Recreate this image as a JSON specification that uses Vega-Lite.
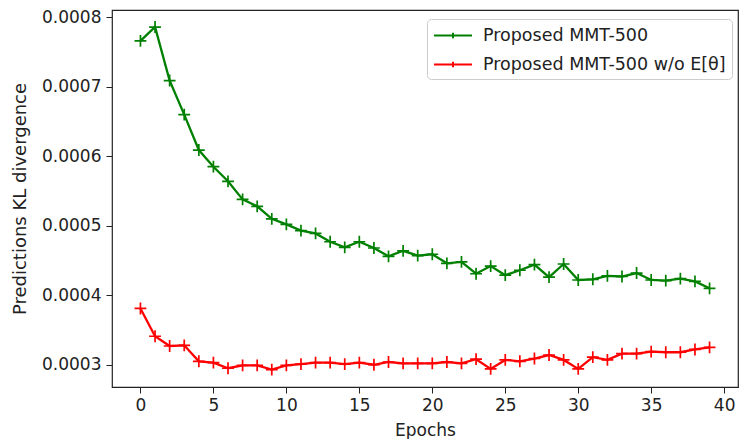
{
  "$schema": "https://vega.github.io/schema/vega-lite/v6.json",
  "autosize": {"type": "none"},
  "width": 626,
  "height": 377,
  "padding": {"left": 112, "top": 10, "right": 2, "bottom": 52},
  "background": "white",
  "config": {
    "view": {"stroke": "#222", "strokeWidth": 1.2},
    "font": "DejaVu Sans",
    "axis": {"grid": false, "domain": false, "tickColor": "#222", "tickSize": 6, "labelFont": "DejaVu Sans", "labelFontSize": 17, "labelColor": "#222", "titleFont": "DejaVu Sans", "titleFontSize": 17, "titleFontWeight": "normal", "titleColor": "#222", "labelPadding": 4}
  },
  "data": {"values": [
    {"epoch":0,"series":"Proposed MMT-500","kl":0.000766},
    {"epoch":1,"series":"Proposed MMT-500","kl":0.000786},
    {"epoch":2,"series":"Proposed MMT-500","kl":0.000709},
    {"epoch":3,"series":"Proposed MMT-500","kl":0.000660},
    {"epoch":4,"series":"Proposed MMT-500","kl":0.000609},
    {"epoch":5,"series":"Proposed MMT-500","kl":0.000585},
    {"epoch":6,"series":"Proposed MMT-500","kl":0.000564},
    {"epoch":7,"series":"Proposed MMT-500","kl":0.000538},
    {"epoch":8,"series":"Proposed MMT-500","kl":0.000528},
    {"epoch":9,"series":"Proposed MMT-500","kl":0.000510},
    {"epoch":10,"series":"Proposed MMT-500","kl":0.000502},
    {"epoch":11,"series":"Proposed MMT-500","kl":0.000493},
    {"epoch":12,"series":"Proposed MMT-500","kl":0.000489},
    {"epoch":13,"series":"Proposed MMT-500","kl":0.000477},
    {"epoch":14,"series":"Proposed MMT-500","kl":0.000469},
    {"epoch":15,"series":"Proposed MMT-500","kl":0.000477},
    {"epoch":16,"series":"Proposed MMT-500","kl":0.000468},
    {"epoch":17,"series":"Proposed MMT-500","kl":0.000456},
    {"epoch":18,"series":"Proposed MMT-500","kl":0.000464},
    {"epoch":19,"series":"Proposed MMT-500","kl":0.000457},
    {"epoch":20,"series":"Proposed MMT-500","kl":0.000459},
    {"epoch":21,"series":"Proposed MMT-500","kl":0.000446},
    {"epoch":22,"series":"Proposed MMT-500","kl":0.000448},
    {"epoch":23,"series":"Proposed MMT-500","kl":0.000431},
    {"epoch":24,"series":"Proposed MMT-500","kl":0.000442},
    {"epoch":25,"series":"Proposed MMT-500","kl":0.000429},
    {"epoch":26,"series":"Proposed MMT-500","kl":0.000436},
    {"epoch":27,"series":"Proposed MMT-500","kl":0.000444},
    {"epoch":28,"series":"Proposed MMT-500","kl":0.000426},
    {"epoch":29,"series":"Proposed MMT-500","kl":0.000445},
    {"epoch":30,"series":"Proposed MMT-500","kl":0.000422},
    {"epoch":31,"series":"Proposed MMT-500","kl":0.000423},
    {"epoch":32,"series":"Proposed MMT-500","kl":0.000428},
    {"epoch":33,"series":"Proposed MMT-500","kl":0.000427},
    {"epoch":34,"series":"Proposed MMT-500","kl":0.000432},
    {"epoch":35,"series":"Proposed MMT-500","kl":0.000422},
    {"epoch":36,"series":"Proposed MMT-500","kl":0.000421},
    {"epoch":37,"series":"Proposed MMT-500","kl":0.000424},
    {"epoch":38,"series":"Proposed MMT-500","kl":0.000420},
    {"epoch":39,"series":"Proposed MMT-500","kl":0.000410},
    {"epoch":0,"series":"Proposed MMT-500 w/o E[θ]","kl":0.000381},
    {"epoch":1,"series":"Proposed MMT-500 w/o E[θ]","kl":0.000341},
    {"epoch":2,"series":"Proposed MMT-500 w/o E[θ]","kl":0.000327},
    {"epoch":3,"series":"Proposed MMT-500 w/o E[θ]","kl":0.000328},
    {"epoch":4,"series":"Proposed MMT-500 w/o E[θ]","kl":0.000305},
    {"epoch":5,"series":"Proposed MMT-500 w/o E[θ]","kl":0.000303},
    {"epoch":6,"series":"Proposed MMT-500 w/o E[θ]","kl":0.000295},
    {"epoch":7,"series":"Proposed MMT-500 w/o E[θ]","kl":0.000299},
    {"epoch":8,"series":"Proposed MMT-500 w/o E[θ]","kl":0.000299},
    {"epoch":9,"series":"Proposed MMT-500 w/o E[θ]","kl":0.000293},
    {"epoch":10,"series":"Proposed MMT-500 w/o E[θ]","kl":0.000299},
    {"epoch":11,"series":"Proposed MMT-500 w/o E[θ]","kl":0.000301},
    {"epoch":12,"series":"Proposed MMT-500 w/o E[θ]","kl":0.000303},
    {"epoch":13,"series":"Proposed MMT-500 w/o E[θ]","kl":0.000303},
    {"epoch":14,"series":"Proposed MMT-500 w/o E[θ]","kl":0.000301},
    {"epoch":15,"series":"Proposed MMT-500 w/o E[θ]","kl":0.000303},
    {"epoch":16,"series":"Proposed MMT-500 w/o E[θ]","kl":0.000300},
    {"epoch":17,"series":"Proposed MMT-500 w/o E[θ]","kl":0.000304},
    {"epoch":18,"series":"Proposed MMT-500 w/o E[θ]","kl":0.000302},
    {"epoch":19,"series":"Proposed MMT-500 w/o E[θ]","kl":0.000302},
    {"epoch":20,"series":"Proposed MMT-500 w/o E[θ]","kl":0.000302},
    {"epoch":21,"series":"Proposed MMT-500 w/o E[θ]","kl":0.000304},
    {"epoch":22,"series":"Proposed MMT-500 w/o E[θ]","kl":0.000302},
    {"epoch":23,"series":"Proposed MMT-500 w/o E[θ]","kl":0.000308},
    {"epoch":24,"series":"Proposed MMT-500 w/o E[θ]","kl":0.000294},
    {"epoch":25,"series":"Proposed MMT-500 w/o E[θ]","kl":0.000307},
    {"epoch":26,"series":"Proposed MMT-500 w/o E[θ]","kl":0.000305},
    {"epoch":27,"series":"Proposed MMT-500 w/o E[θ]","kl":0.000309},
    {"epoch":28,"series":"Proposed MMT-500 w/o E[θ]","kl":0.000314},
    {"epoch":29,"series":"Proposed MMT-500 w/o E[θ]","kl":0.000307},
    {"epoch":30,"series":"Proposed MMT-500 w/o E[θ]","kl":0.000294},
    {"epoch":31,"series":"Proposed MMT-500 w/o E[θ]","kl":0.000311},
    {"epoch":32,"series":"Proposed MMT-500 w/o E[θ]","kl":0.000307},
    {"epoch":33,"series":"Proposed MMT-500 w/o E[θ]","kl":0.000316},
    {"epoch":34,"series":"Proposed MMT-500 w/o E[θ]","kl":0.000316},
    {"epoch":35,"series":"Proposed MMT-500 w/o E[θ]","kl":0.000319},
    {"epoch":36,"series":"Proposed MMT-500 w/o E[θ]","kl":0.000318},
    {"epoch":37,"series":"Proposed MMT-500 w/o E[θ]","kl":0.000318},
    {"epoch":38,"series":"Proposed MMT-500 w/o E[θ]","kl":0.000322},
    {"epoch":39,"series":"Proposed MMT-500 w/o E[θ]","kl":0.000325}
  ]},
  "encoding": {
    "x": {"field": "epoch", "type": "quantitative", "scale": {"domain": [-1.95, 40.95], "nice": false, "zero": false},
      "axis": {"values": [0,5,10,15,20,25,30,35,40], "title": "Epochs", "titlePadding": 9}},
    "y": {"field": "kl", "type": "quantitative", "scale": {"domain": [0.000268, 0.0008105], "nice": false, "zero": false},
      "axis": {"values": [0.0003,0.0004,0.0005,0.0006,0.0007,0.0008], "format": ".4f", "title": "Predictions KL divergence", "titleFontSize": 18, "titlePadding": 12, "labelPadding": 5}},
    "color": {"field": "series", "type": "nominal",
      "scale": {"domain": ["Proposed MMT-500", "Proposed MMT-500 w/o E[θ]"], "range": ["#008000", "#ff0000"]},
      "legend": {"title": null, "orient": "none", "legendX": 315, "legendY": 9, "padding": 6, "rowPadding": 10,
        "strokeColor": "#cccccc", "fillColor": "white", "cornerRadius": 4,
        "labelFontSize": 17.5, "labelFont": "DejaVu Sans", "labelColor": "#222", "labelOffset": 29, "labelLimit": 400,
        "symbolType": "M-1,0H3M1,-0.3V0.3", "symbolSize": 361, "symbolStrokeWidth": 2, "symbolFillColor": "transparent"}}
  },
  "layer": [
    {"mark": {"type": "line", "strokeWidth": 2.3}},
    {"mark": {"type": "point", "shape": "M-1,0H1M0,-1V1", "filled": false, "size": 140, "strokeWidth": 1.7, "opacity": 1}}
  ]
}
